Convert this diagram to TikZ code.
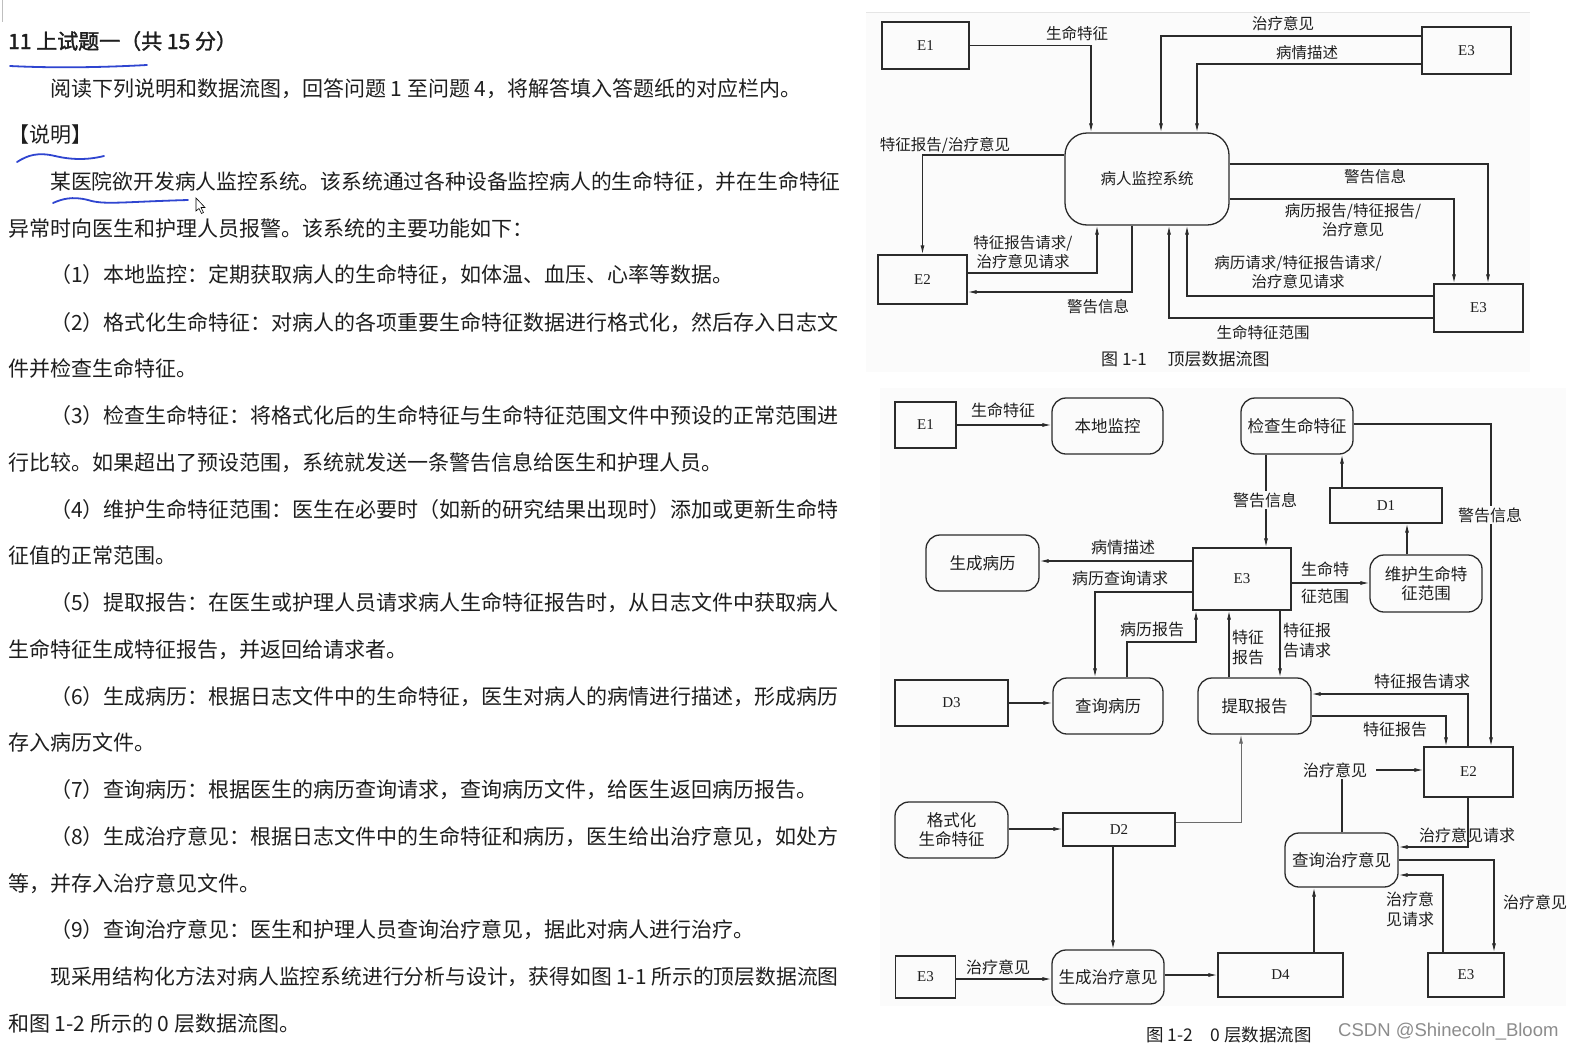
\documentclass[tikz,border=0pt]{standalone}
\usepackage{fontspec}
\setmainfont{Noto Sans CJK SC}
\newfontfamily\boldcjk[FakeBold=1.6]{Noto Sans CJK SC}
\newfontfamily\serifen{Liberation Serif}
\newfontfamily\wmfont{Liberation Sans}
\usetikzlibrary{arrows.meta,calc}
\definecolor{lc}{HTML}{2B2B2B}
\definecolor{txt}{HTML}{1E1E1E}
\definecolor{diagbg}{HTML}{FBFBFB}
\definecolor{markblue}{HTML}{2F45D0}
\definecolor{wmgray}{HTML}{8C8C8C}
\tikzset{
  ln/.style={draw=lc, line width=1.1pt},
  arr/.style={ln, -{Latex[length=9pt,width=4pt]}},
  ebox/.style={draw=lc, line width=1.3pt, inner sep=0pt, text=txt, font=\serifen\fontsize{15}{15}\selectfont},
  pbox/.style={ebox, rounded corners=14pt, font=\fontsize{16.5}{20}\selectfont, align=center},
  lbl/.style={inner sep=1pt, text=txt, align=center, font=\fontsize{15.5}{19}\selectfont},
  lblb/.style={inner sep=1pt, text=txt, align=center, font=\fontsize{16}{20}\selectfont},
  para/.style={anchor=base west, inner sep=0pt, text=txt, font=\fontsize{21}{21}\selectfont},
  bmark/.style={draw=markblue, line width=1.8pt, line cap=round}
}
\begin{document}
\begin{tikzpicture}[x=1pt,y=-1pt]
\path[use as bounding box, fill=white] (0,0) rectangle (1577,1052);
% faint backgrounds of the figures
\fill[diagbg] (866,12) rectangle (1530,372);
\draw[black!10, line width=0.6pt] (866,12) -- (1530,12);
\fill[diagbg] (880,388) rectangle (1566,1006);
\draw[black!25, line width=0.8pt] (2,0) -- (2,22);

% ---------------- left text ----------------
\node[para] (t1) at (8,49) {\boldcjk 11 上试题一（共 15 分）};
\node[para] (t2) at (50,96.5) {阅读下列说明和数据流图，回答问题 1 至问题 4，将解答填入答题纸的对应栏内。};
\node[para] (t3) at (8,142) {【说明】};
\node[para, font=\fontsize{20.8}{21}\selectfont] (t4) at (50,189) {某医院欲开发病人监控系统。该系统通过各种设备监控病人的生命特征，并在生命特征};
\node[para] (t5) at (8,236) {异常时向医生和护理人员报警。该系统的主要功能如下：};
\node[para] (t6) at (50,282.5) {（1）本地监控：定期获取病人的生命特征，如体温、血压、心率等数据。};
\node[para] (t7) at (50,330) {（2）格式化生命特征：对病人的各项重要生命特征数据进行格式化，然后存入日志文};
\node[para] (t8) at (8,376) {件并检查生命特征。};
\node[para] (t9) at (50,423) {（3）检查生命特征：将格式化后的生命特征与生命特征范围文件中预设的正常范围进};
\node[para] (t10) at (8,470) {行比较。如果超出了预设范围，系统就发送一条警告信息给医生和护理人员。};
\node[para] (t11) at (50,517) {（4）维护生命特征范围：医生在必要时（如新的研究结果出现时）添加或更新生命特};
\node[para] (t12) at (8,563) {征值的正常范围。};
\node[para] (t13) at (50,610) {（5）提取报告：在医生或护理人员请求病人生命特征报告时，从日志文件中获取病人};
\node[para] (t14) at (8,657) {生命特征生成特征报告，并返回给请求者。};
\node[para] (t15) at (50,704) {（6）生成病历：根据日志文件中的生命特征，医生对病人的病情进行描述，形成病历};
\node[para] (t16) at (8,750) {存入病历文件。};
\node[para] (t17) at (50,797.5) {（7）查询病历：根据医生的病历查询请求，查询病历文件，给医生返回病历报告。};
\node[para] (t18) at (50,844) {（8）生成治疗意见：根据日志文件中的生命特征和病历，医生给出治疗意见，如处方};
\node[para] (t19) at (8,891) {等，并存入治疗意见文件。};
\node[para] (t20) at (50,937) {（9）查询治疗意见：医生和护理人员查询治疗意见，据此对病人进行治疗。};
\node[para, font=\fontsize{20.8}{21}\selectfont] (t21) at (50,984.5) {现采用结构化方法对病人监控系统进行分析与设计，获得如图 1-1 所示的顶层数据流图};
\node[para] (t22) at (8,1031) {和图 1-2 所示的 0 层数据流图。};

% hand-drawn blue marks
\draw[bmark] (10,66) .. controls (60,68.5) and (110,67) .. (147,65);
\draw[bmark] (17,162) .. controls (28,155) and (38,152) .. (55,156) .. controls (72,160) and (88,160) .. (104,156);
\draw[bmark] (53,203) .. controls (62,199) and (72,196) .. (88,200) .. controls (104,205) and (120,202) .. (188,200);
\draw[black, fill=white, line width=0.6pt] (196,198) -- (196,211) -- (199,208.5) -- (201.5,213.5) -- (203.5,212.5) -- (201,207.5) -- (205,207.5) -- cycle;

% ---------------- Figure 1-1 ----------------
\node[ebox, minimum width=87pt, minimum height=47pt] (aE1) at (925.5,45.5) {E1};
\node[ebox, minimum width=89pt, minimum height=47pt] (aE3t) at (1466.5,50.5) {E3};
\node[ebox, rounded corners=22pt, minimum width=164pt, minimum height=92pt, font=\fontsize{15.5}{19}\selectfont] (asys) at (1147,179) {病人监控系统};
\node[ebox, minimum width=89pt, minimum height=49pt] (aE2) at (922.5,279.5) {E2};
\node[ebox, minimum width=89pt, minimum height=48pt] (aE3b) at (1478.5,308) {E3};

\draw[arr] (aE1.east) -| (asys.north -| 1091,0);
\draw[arr] (aE3t.west |- 0,36) -| (asys.north -| 1161,0);
\draw[arr] (aE3t.west |- 0,64) -| (asys.north -| 1197,0);
\draw[arr] (asys.west |- 0,155) -| (aE2.north);
\draw[arr] (aE2.east |- 0,273) -| (asys.south -| 1097,0);
\draw[arr] (asys.south -| 1132,0) |- (aE2.east |- 0,292);
\draw[arr] (asys.east |- 0,164) -| (aE3b.north -| 1488,0);
\draw[arr] (asys.east |- 0,199) -| (aE3b.north -| 1454,0);
\draw[arr] (aE3b.west |- 0,296) -| (asys.south -| 1187,0);
\draw[arr] (aE3b.west |- 0,318) -| (asys.south -| 1169,0);

\node[lbl] (al1) at (1077,34) {生命特征};
\node[lbl] (al2) at (1283,24) {治疗意见};
\node[lbl] (al3) at (1307,53) {病情描述};
\node[lbl] (al4) at (945,145) {特征报告/治疗意见};
\node[lbl] (al5) at (1023,252.5) {特征报告请求/\\治疗意见请求};
\node[lbl] (al6) at (1098,307) {警告信息};
\node[lbl] (al7) at (1375,177) {警告信息};
\node[lbl] (al8) at (1353,220.5) {病历报告/特征报告/\\治疗意见};
\node[lbl] (al9) at (1298,272) {病历请求/特征报告请求/\\治疗意见请求};
\node[lbl] (al10) at (1263,333) {生命特征范围};
\node[lbl, anchor=west, font=\fontsize{17}{19}\selectfont] (acap) at (1100,359) {图 1-1\quad\ 顶层数据流图};

% ---------------- Figure 1-2 ----------------
\node[ebox, minimum width=61pt, minimum height=46pt] (bE1) at (925.5,425) {E1};
\node[pbox, minimum width=111pt, minimum height=56pt] (bbd) at (1107.5,426) {本地监控};
\node[pbox, minimum width=112pt, minimum height=56pt] (bjc) at (1297,426) {检查生命特征};
\node[ebox, minimum width=112pt, minimum height=35pt] (bD1) at (1386,505.5) {D1};
\node[pbox, minimum width=113pt, minimum height=56pt] (bsb) at (982.5,563) {生成病历};
\node[ebox, minimum width=98pt, minimum height=62pt] (bE3c) at (1242,579) {E3};
\node[pbox, minimum width=112pt, minimum height=57pt, font=\fontsize{16.5}{19}\selectfont] (bwh) at (1426,583.5) {维护生命特\\征范围};
\node[ebox, minimum width=113pt, minimum height=46pt] (bD3) at (951.5,703) {D3};
\node[pbox, minimum width=110pt, minimum height=56pt] (bcb) at (1108,706) {查询病历};
\node[pbox, minimum width=113pt, minimum height=56pt] (bte) at (1254.5,706) {提取报告};
\node[ebox, minimum width=89pt, minimum height=50pt] (bE2) at (1468.5,772) {E2};
\node[pbox, minimum width=113pt, minimum height=56pt, font=\fontsize{16.5}{19}\selectfont] (bgs) at (951.5,830) {格式化\\生命特征};
\node[ebox, minimum width=112pt, minimum height=33pt] (bD2) at (1119,829.5) {D2};
\node[pbox, minimum width=113pt, minimum height=54pt] (bqz) at (1341.5,860) {查询治疗意见};
\node[ebox, minimum width=60pt, minimum height=42pt] (bE3d) at (925.5,977) {E3};
\node[pbox, minimum width=112pt, minimum height=54pt] (bsz) at (1108,977) {生成治疗意见};
\node[ebox, minimum width=125pt, minimum height=44pt] (bD4) at (1280.5,975) {D4};
\node[ebox, minimum width=76pt, minimum height=44pt] (bE3e) at (1466,975) {E3};

\draw[arr] (bE1.east) -- (bbd.west |- bE1.east);
\draw[arr] (bjc.south -| 1266,0) -- (bE3c.north -| 1266,0);
\draw[arr] (bjc.east |- 0,424) -| (bE2.north -| 1491,0);
\draw[arr] (bD1.north -| 1342,0) -- (bjc.south -| 1342,0);
\draw[arr] (bwh.north -| 1407,0) -- (bD1.south -| 1407,0);
\draw[arr] (bE3c.east |- 0,583) -- (bwh.west |- 0,583);
\draw[arr] (bE3c.west |- 0,561) -- (bsb.east |- 0,561);
\draw[arr] (bE3c.west |- 0,592) -| (bcb.north -| 1095,0);
\draw[arr] (bcb.north -| 1127,0) |- (1196,642) -- (bE3c.south -| 1196,0);
\draw[arr] (bte.north -| 1229,0) -- (bE3c.south -| 1229,0);
\draw[arr] (bE3c.south -| 1280,0) -- (bte.north -| 1280,0);
\draw[arr] (bD3.east) -- (bcb.west |- bD3.east);
\draw[arr] (bE2.north -| 1468,0) |- (bte.east |- 0,694);
\draw[arr] (bte.east |- 0,716) -| (bE2.north -| 1446,0);
\draw[arr] (bE2.south -| 1468,0) |- (bqz.east |- 0,847);
\draw[arr] (bgs.east |- 0,829) -- (bD2.west |- 0,829);
\draw[arr, draw=lc!70, line width=0.9pt] (bD2.east |- 0,822) -| (bte.south -| 1241,0);
\draw[arr] (bD2.south -| 1113,0) -- (bsz.north -| 1113,0);
\draw[arr] (bE3d.east |- 0,979) -- (bsz.west |- 0,979);
\draw[arr] (bsz.east |- 0,975) -- (bD4.west |- 0,975);
\draw[arr] (bD4.north -| 1314,0) -- (bqz.south -| 1314,0);
\draw[arr] (bqz.east |- 0,860) -| (bE3e.north -| 1494,0);
\draw[arr] (bE3e.north -| 1443,0) |- (bqz.east |- 0,875);

\node[lblb] (bl1) at (1003,410) {生命特征};
\node[lblb, fill=diagbg] (bl2) at (1265,500) {警告信息};
\node[lblb, fill=diagbg] (bl3) at (1490,515) {警告信息};
\node[lblb] (bl4) at (1325,582.5) {生命特\\[7pt]征范围};
\node[lblb] (bl5) at (1123,547) {病情描述};
\node[lblb] (bl6) at (1120,578) {病历查询请求};
\node[lblb] (bl7) at (1152,629) {病历报告};
\node[lblb] (bl8) at (1248,647) {特征\\报告};
\node[lblb] (bl9) at (1307,640) {特征报\\告请求};
\node[lblb] (bl10) at (1422,681) {特征报告请求};
\node[lblb] (bl11) at (1395,729) {特征报告};
\node[lblb] (btz) at (1335,770) {治疗意见};
\draw[ln] (bqz.north -| 1342,0) -- (btz.south -| 1342,0);
\draw[arr] ([xshift=8pt]btz.east) -- (bE2.west |- btz.east);
\node[lblb] (bl12) at (1467,835) {治疗意见请求};
\node[lblb] (bl13) at (998,967) {治疗意见};
\node[lblb] (bl14) at (1535,902) {治疗意见};
\node[lblb] (bl15) at (1410,909) {治疗意\\见请求};
\node[lblb, anchor=west, font=\fontsize{17.5}{19}\selectfont] (bcap) at (1145,1035) {图 1-2\quad 0 层数据流图};
\node[anchor=west, inner sep=0pt, text=wmgray, font=\wmfont\fontsize{18.5}{18.5}\selectfont] (wm) at (1338,1032) {CSDN @Shinecoln\_Bloom};
\end{tikzpicture}
\end{document}
